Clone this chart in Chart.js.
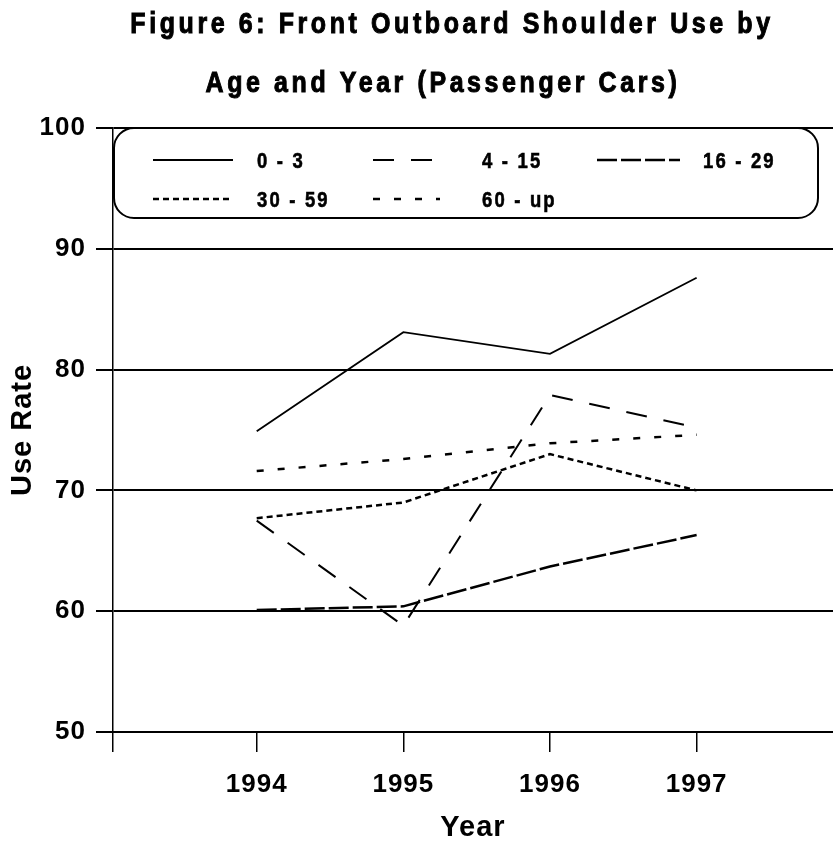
<!DOCTYPE html>
<html>
<head>
<meta charset="utf-8">
<script src="https://cdn.jsdelivr.net/npm/chart.js@4.4.0/dist/chart.umd.min.js"></script>
<style>
  html, body { margin: 0; padding: 0; background: #fff; }
  #chart { display: block; }
</style>
</head>
<body>
<canvas id="chart" width="833" height="845"></canvas>
<script>
// values (use rate, %)
const years = [1994, 1995, 1996, 1997];
const ageGroups = ['0 - 3', '4 - 15', '16 - 29', '30 - 59', '60 - up'];
const age0to3 = [74.9, 83.1, 81.3, 87.6];
const age4to15 = [67.5, 58.8, 77.9, 75.2];
const age16to29 = [60.1, 60.4, 63.7, 66.3];
const age30to59 = [67.7, 69.0, 73.0, 70.0];
const age60up = [71.6, 72.6, 73.9, 74.6];
const yTicks = [50, 60, 70, 80, 90, 100];

const FONT = "'Liberation Sans', Arial, sans-serif";

const seriesStyle = [
  { dash: [], width: 1.8 },
  { dash: [21, 17], width: 2 },
  { dash: [20, 4], width: 2.5 },
  { dash: [6, 4], width: 2.5 },
  { dash: [7, 14], width: 2.5 },
];
const seriesData = [age0to3, age4to15, age16to29, age30to59, age60up];

const datasets = ageGroups.map((label, i) => ({
  label,
  data: seriesData[i],
  borderColor: '#000',
  borderWidth: seriesStyle[i].width,
  borderDash: seriesStyle[i].dash,
  pointRadius: 0,
  tension: 0,
  fill: false,
}));

// a bit of letter spacing for the axis text, like the scan
const spacing = {
  id: 'spacing',
  beforeLayout(chart) { chart.ctx.letterSpacing = '1px'; },
  beforeDraw(chart) { chart.ctx.letterSpacing = '1px'; },
};

// narrow, heavy, spaced text: squeeze horizontally around the anchor
function narrowText(ctx, text, x, y, sx, gap, heavy) {
  ctx.save();
  ctx.translate(x, y);
  ctx.scale(sx, 1);
  ctx.letterSpacing = gap + 'px';
  ctx.fillText(text, 0, 0);
  if (heavy) {
    ctx.lineWidth = heavy;
    ctx.strokeStyle = '#000';
    ctx.strokeText(text, 0, 0);
  }
  ctx.restore();
}

// title and the rounded legend box drawn by hand
const decor = {
  id: 'decor',
  afterDraw(chart) {
    const ctx = chart.ctx;
    ctx.save();
    ctx.fillStyle = '#000';
    ctx.textAlign = 'center';
    ctx.textBaseline = 'alphabetic';
    ctx.font = 'bold 29px ' + FONT;
    narrowText(ctx, 'Figure 6: Front Outboard Shoulder Use by', 452, 33, 0.86, 4.2, 1);
    narrowText(ctx, 'Age and Year (Passenger Cars)', 443, 92, 0.86, 4.2, 1);

    // legend box
    const bx = 114, by = 128, bw = 704, bh = 90, r = 20;
    ctx.beginPath();
    ctx.roundRect(bx, by, bw, bh, r);
    ctx.lineWidth = 2;
    ctx.strokeStyle = '#000';
    ctx.stroke();

    const cols = [[153, 233, 257], [373, 440, 482], [597, 680, 703]];
    const rows = [160, 199];
    ctx.font = 'bold 22px ' + FONT;
    ctx.textAlign = 'left';
    ctx.textBaseline = 'alphabetic';
    chart.data.datasets.forEach((ds, i) => {
      const c = cols[i % 3];
      const y = rows[Math.floor(i / 3)];
      ctx.beginPath();
      ctx.setLineDash(ds.borderDash);
      ctx.lineWidth = ds.borderWidth;
      ctx.moveTo(c[0], y);
      ctx.lineTo(c[1], y);
      ctx.stroke();
      ctx.setLineDash([]);
      narrowText(ctx, ds.label, c[2], y + 8, 0.84, 2.6, 0.6);
    });
    ctx.restore();
  },
};

const xMin = 1993.02, xMax = 1997.93;

new Chart(document.getElementById('chart'), {
  type: 'line',
  data: { labels: years, datasets },
  plugins: [spacing, decor],
  options: {
    responsive: false,
    animation: false,
    layout: { padding: { top: 128, left: 0, right: 0, bottom: 0 } },
    plugins: { legend: { display: false }, tooltip: { enabled: false }, title: { display: false } },
    scales: {
      x: {
        type: 'linear',
        min: xMin,
        max: xMax,
        afterBuildTicks(scale) {
          scale.ticks = [{ value: xMin }].concat(years.map(v => ({ value: v })));
        },
        afterFit(scale) { scale.height = 113; },
        ticks: {
          color: '#000',
          font: { family: FONT, size: 26, weight: 'bold' },
          padding: 17,
          maxRotation: 0,
          autoSkip: false,
          callback: v => (years.includes(v) ? String(v) : ''),
        },
        grid: { drawOnChartArea: false, drawTicks: true, tickLength: 20, color: '#000', lineWidth: 1.5 },
        border: { display: true, color: '#000', width: 2 },
        title: {
          display: true,
          text: 'Year',
          color: '#000',
          font: { family: FONT, size: 29, weight: 'bold' },
          padding: { top: 0, bottom: 0 },
        },
      },
      y: {
        min: 50,
        max: 100,
        afterBuildTicks(scale) { scale.ticks = yTicks.map(v => ({ value: v })); },
        afterFit(scale) { scale.width = 113; },
        ticks: {
          color: '#000',
          font: { family: FONT, size: 26, weight: 'bold' },
          padding: 10,
        },
        grid: { color: '#000', lineWidth: 2, tickLength: 17 },
        border: { display: true, color: '#000', width: 1.5 },
        title: {
          display: true,
          text: 'Use Rate',
          color: '#000',
          font: { family: FONT, size: 29, weight: 'bold' },
          padding: { top: 6, bottom: 4 },
        },
      },
    },
  },
});
</script>
</body>
</html>
